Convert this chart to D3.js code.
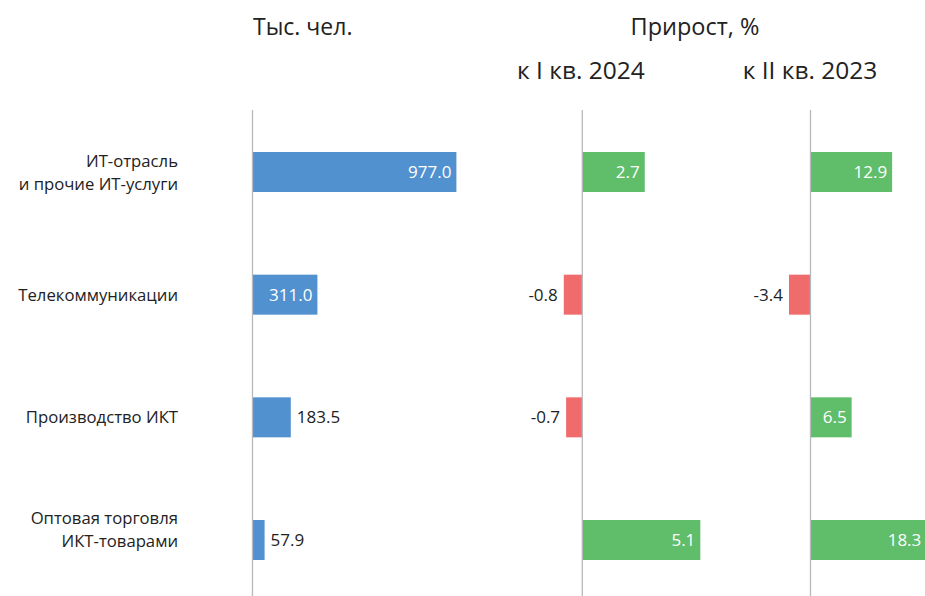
<!DOCTYPE html>
<html><head><meta charset="utf-8">
<script src="https://cdn.jsdelivr.net/npm/d3@7"></script>
<style>body{margin:0;background:#fff}svg{display:block;font-family:"Open Sans",sans-serif}</style>
</head><body><svg id="c" width="925" height="596"></svg>
<script>
const categories = [["ИТ-отрасль","и прочие ИТ-услуги"],["Телекоммуникации"],["Производство ИКТ"],["Оптовая торговля","ИКТ-товарами"]];
const employment = [977.0, 311.0, 183.5, 57.9];
const growthQ1 = [2.7, -0.8, -0.7, 5.1];
const growthYoY = [12.9, -3.4, 6.5, 18.3];
const titleLeft = "Тыс. чел.";
const titleRight = "Прирост, %";
const subQ1 = "к I кв. 2024";
const subYoY = "к II кв. 2023";

const svg = d3.select("#c");
const W = 925, H = 596;
const y = d3.scalePoint().domain(d3.range(categories.length)).range([172, 540]);
const barH = 40;
const blue = "#5191cf", green = "#60bd6a", red = "#f06b6c", axisC = "#b8b8bc", txt = "#222";
const fmt = v => d3.format(".1f")(v).replace("\u2212", "-");

const panels = [
  {data: employment, x: d3.scaleLinear().domain([0, 1000]).range([252.5, 461.2]), color: () => blue},
  {data: growthQ1, x: d3.scaleLinear().domain([0, 5]).range([582.3, 698]), color: v => v < 0 ? red : green},
  {data: growthYoY, x: d3.scaleLinear().domain([0, 18]).range([810.5, 924.4]), color: v => v < 0 ? red : green}
];

panels.forEach(p => {
  const g = svg.append("g");
  g.selectAll("rect").data(p.data).join("rect")
    .attr("x", d => Math.min(p.x(0), p.x(d)))
    .attr("width", d => Math.abs(p.x(d) - p.x(0)))
    .attr("y", (d, i) => y(i) - barH / 2)
    .attr("height", barH)
    .attr("fill", d => p.color(d));
  g.append("line").attr("x1", p.x(0)).attr("x2", p.x(0)).attr("y1", 110).attr("y2", H)
    .attr("stroke", axisC).attr("stroke-width", 1.3);
  g.selectAll("text.v").data(p.data).join("text").attr("class", "v")
    .attr("y", (d, i) => y(i)).attr("dy", "0.36em")
    .style("font-size", "17px")
    .text(d => fmt(d))
    .each(function(d) {
      const t = d3.select(this);
      const tw = this.getComputedTextLength();
      const bw = Math.abs(p.x(d) - p.x(0));
      if (d < 0) {
        t.attr("x", p.x(d) - 6).attr("text-anchor", "end").attr("fill", txt);
      } else if (tw + 10 < bw) {
        t.attr("x", p.x(d) - 5).attr("text-anchor", "end").attr("fill", "#fff");
      } else {
        t.attr("x", p.x(d) + 6).attr("text-anchor", "start").attr("fill", txt);
      }
    });
});

// category labels (last label sits slightly above its bar centre, as in the source)
const labelShift = i => (i === categories.length - 1 ? -11 : 0);
svg.append("g").selectAll("text").data(categories).join("text")
  .attr("text-anchor", "end").attr("fill", txt).style("font-size", "16.7px")
  .attr("transform", (d, i) => `translate(178,${y(i) + labelShift(i)})`)
  .each(function(d) {
    const t = d3.select(this);
    d.forEach((line, k) => {
      t.append("tspan").attr("x", 0)
        .attr("y", (k - (d.length - 1) / 2) * 23)
        .attr("dy", "0.36em").text(line);
    });
  });

// titles
svg.append("text").attr("x", 253).attr("y", 35).attr("fill", txt).style("font-size", "23px").text(titleLeft);
svg.append("text").attr("x", 695).attr("y", 35).attr("text-anchor", "middle").attr("fill", txt).style("font-size", "23.5px").text(titleRight);
svg.append("text").attr("x", 581).attr("y", 79).attr("text-anchor", "middle").attr("fill", txt).style("font-size", "24.5px").text(subQ1);
svg.append("text").attr("x", 810).attr("y", 79).attr("text-anchor", "middle").attr("fill", txt).style("font-size", "24.5px").text(subYoY);
</script></body></html>
